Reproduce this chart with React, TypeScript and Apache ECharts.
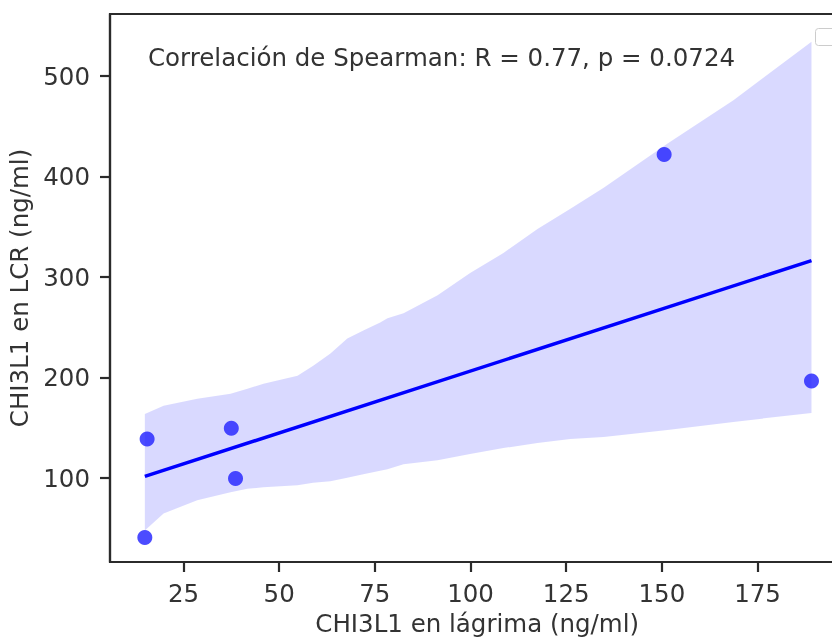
import React, { useEffect, useRef } from "react";
import * as echarts from "echarts";

// Scatter points (CHI3L1 tear vs CSF)
const pointX = [14.9, 15.5, 37.5, 38.6, 150.6, 189.1];
const pointY = [41, 139.1, 149.8, 99.7, 422, 196.8];

// Fitted regression line end points
const lineX = [14.9, 189.1];
const lineY = [101.8, 316.4];

// Confidence band
const bandX = [14.9, 19.8, 28.6, 37.3, 41.7, 45.9, 54.8, 58.9, 63.4, 67.8, 72.0, 76.4, 78.3, 82.5, 91.4, 99.9, 108.6, 117.5, 126.1, 134.8, 151.5, 168.7, 189.1];
const bandUpper = [164, 172, 179, 184, 189, 194, 202, 212, 224, 239, 247, 255, 259, 264, 282, 304, 324, 348, 368, 389, 433, 476, 534];
const bandLower = [48, 65, 78, 86, 89.5, 91, 93, 95.5, 97, 100.5, 104, 107.5, 109, 114, 118, 124, 130, 135, 139, 141, 148, 156, 165];

// Tick labels
const xTicks = [25, 50, 75, 100, 125, 150, 175];
const yTicks = [100, 200, 300, 400, 500];

const annotation = "Correlación de Spearman: R = 0.77, p = 0.0724";
const xTitle = "CHI3L1 en lágrima (ng/ml)";
const yTitle = "CHI3L1 en LCR (ng/ml)";

const FONT = "DejaVu Sans";
const INK = "#333333";
const SPINE = "#2b2b2b";
const FS = 24.5;

export default function App() {
  const ref = useRef<HTMLDivElement>(null);
  useEffect(() => {
    if (!ref.current) return;
    const chart = echarts.init(ref.current, undefined, { renderer: "svg" });
    const axisCommon = {
      type: "value" as const,
      splitLine: { show: false },
      axisLine: { show: true, lineStyle: { color: SPINE, width: 2.2 } },
      axisTick: { show: true, length: 10, lineStyle: { color: SPINE, width: 2.2 } },
      nameLocation: "middle" as const,
      nameTextStyle: { fontSize: FS, color: INK, fontFamily: FONT },
    };
    chart.setOption({
      animation: false,
      textStyle: { fontFamily: FONT },
      grid: {
        left: 110,
        top: 14,
        width: 734.4,
        height: 548,
        show: true,
        borderColor: SPINE,
        borderWidth: 2.2,
        containLabel: false,
        outerBoundsMode: "none",
      },
      xAxis: {
        ...axisCommon,
        min: 5.8,
        max: 197.7,
        name: xTitle,
        nameGap: 46,
        axisTick: { ...axisCommon.axisTick, customValues: xTicks },
        axisLabel: {
          customValues: xTicks,
          fontSize: FS,
          color: INK,
          fontFamily: FONT,
          margin: 19,
        },
      },
      yAxis: {
        ...axisCommon,
        min: 16.7,
        max: 561.7,
        name: yTitle,
        nameGap: 75,
        axisTick: { ...axisCommon.axisTick, customValues: yTicks },
        axisLabel: {
          customValues: yTicks,
          fontSize: FS,
          color: INK,
          fontFamily: FONT,
          margin: 20,
        },
      },
      series: [
        {
          type: "custom",
          silent: true,
          z: 1,
          data: [[bandX[0], bandLower[0]]],
          renderItem: (_params: any, api: any) => {
            const pts: number[][] = [];
            for (let i = 0; i < bandX.length; i++) pts.push(api.coord([bandX[i], bandUpper[i]]));
            for (let i = bandX.length - 1; i >= 0; i--) pts.push(api.coord([bandX[i], bandLower[i]]));
            return {
              type: "polygon",
              shape: { points: pts },
              style: { fill: "rgba(0,0,255,0.15)", stroke: "none" },
            };
          },
        },
        {
          type: "line",
          z: 3,
          symbol: "none",
          data: lineX.map((x, i) => [x, lineY[i]]),
          lineStyle: { color: "#0000ff", width: 3.5 },
        },
        {
          type: "scatter",
          z: 4,
          symbolSize: 15,
          data: pointX.map((x, i) => [x, pointY[i]]),
          itemStyle: { color: "#1f1fff" },
        },
      ],
      graphic: [
        {
          type: "text",
          x: 148,
          y: 57,
          style: {
            text: annotation,
            fontSize: FS,
            fontFamily: FONT,
            fill: INK,
            verticalAlign: "middle",
          },
        },
        {
          type: "rect",
          shape: { x: 815.5, y: 28.5, width: 30, height: 17, r: 3 },
          style: { fill: "#ffffff", stroke: "#cccccc", lineWidth: 1 },
        },
      ],
    });
    return () => chart.dispose();
  }, []);
  return (
    <div
      ref={ref}
      style={{ position: "fixed", left: 0, top: 0, width: 870, height: 637 }}
    />
  );
}
